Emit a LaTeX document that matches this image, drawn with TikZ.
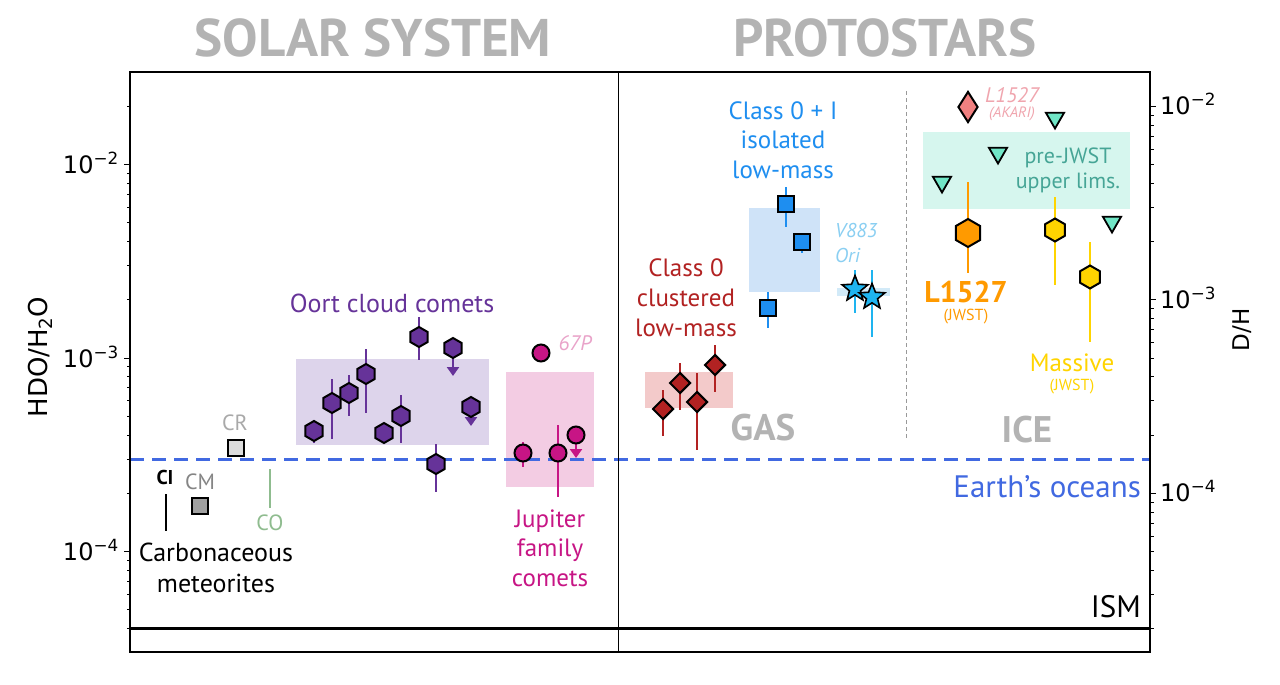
\documentclass[tikz,border=0pt]{standalone}
\usepackage{fontspec}
\setmainfont{PT Sans}
\newfontfamily\dejavu{DejaVu Sans}
\usetikzlibrary{shapes.geometric,arrows.meta}
\definecolor{ttlgray}{HTML}{B3B3B3}
\definecolor{oortc}{HTML}{663399}
\definecolor{oortbox}{HTML}{DDD4EB}
\definecolor{jfc}{HTML}{C71585}
\definecolor{jfcbox}{HTML}{F3CCE3}
\definecolor{pinklt}{HTML}{E9A3C9}
\definecolor{gasred}{HTML}{B22222}
\definecolor{gasbox}{HTML}{F3CACA}
\definecolor{isoblue}{HTML}{1E8EF0}
\definecolor{isobox}{HTML}{CFE3F8}
\definecolor{starblue}{HTML}{1EB4F0}
\definecolor{v883}{HTML}{8ACFF2}
\definecolor{v883box}{HTML}{D2EAF8}
\definecolor{triac}{HTML}{70E6C6}
\definecolor{tribox}{HTML}{D6F6EE}
\definecolor{tealtxt}{HTML}{46A596}
\definecolor{akari}{HTML}{F08080}
\definecolor{akaritxt}{HTML}{F0A5AE}
\definecolor{orng}{HTML}{FF9A00}
\definecolor{gold}{HTML}{FFD400}
\definecolor{oceanblue}{HTML}{4169E1}
\definecolor{cogreen}{HTML}{8FBC8F}
\definecolor{cmgray}{HTML}{A0A0A0}
\definecolor{cmtxt}{HTML}{858585}
\definecolor{crgray}{HTML}{DCDCDC}
\definecolor{crtxt}{HTML}{A9A9A9}
\begin{document}
\begin{tikzpicture}[x=1pt,y=-1pt,
  lbl/.style={inner sep=0pt, align=center, font=\fontsize{23}{29.5}\selectfont},
  ttl/.style={inner sep=0pt, text=ttlgray, font=\fontsize{53}{60}\selectfont\bfseries},
  tick/.style={inner sep=0pt, font=\dejavu\fontsize{24}{28}\selectfont},
  mk/.style={draw=black, line width=2pt, inner sep=0pt},
  hexmk/.style={mk, regular polygon, regular polygon sides=6, shape border rotate=30, minimum size=20pt},
  circmk/.style={mk, circle, minimum size=17pt},
  sqmk/.style={mk, rectangle, minimum size=16pt, line width=2.4pt},
  dmk/.style={mk, diamond, minimum width=21pt, minimum height=21pt},
  starmk/.style={mk, star, star points=5, star point ratio=2.3, minimum size=27pt, line width=1.6pt},
  trimk/.style={mk, regular polygon, regular polygon sides=3, shape border rotate=180, minimum size=21pt, line width=1.8pt},
  ebar/.style={line width=2.6pt},
  ulim/.style={line width=2.6pt, -{Triangle[width=12pt,length=9pt]}}
]
\useasboundingbox (0,0) rectangle (1280,685);
\fill[white] (0,0) rectangle (1280,685);

% titles
\node[ttl] (tsolar) at (373,38) {SOLAR SYSTEM};
\node[ttl] (tproto) at (885,38) {PROTOSTARS};

% shaded boxes
\fill[oortbox] (296,359) rectangle (489,445);
\fill[jfcbox] (506,372) rectangle (594,487);
\fill[gasbox] (645,372) rectangle (733,408);
\fill[isobox] (749,208) rectangle (820,292);
\fill[v883box] (837,288) rectangle (890,296);
\fill[tribox] (923,132) rectangle (1130,209);

% reference lines
\draw[oceanblue, line width=3pt, dash pattern=on 14pt off 8pt] (130,459) -- (1150,459);
\draw[black, line width=3pt] (130,628) -- (1150,628);
\draw[gray!80, line width=1pt, dash pattern=on 4pt off 3pt] (906,91) -- (906,438);
\draw[black, line width=1pt] (618,72) -- (618,652);

% axes frame
\draw[black, line width=1.5pt] (130,72) rectangle (1150,652);

% ticks
\foreach \d in {-5,-4,-3,-2} {
  \foreach \m in {1,...,9} {
    \pgfmathsetmacro\yy{358-193.5*(log10(\m)+\d+3)}
    \pgfmathsetmacro\tl{\m==1 ? 6 : 3.5}
    \ifdim\yy pt>73pt \ifdim\yy pt<651pt
      \draw[line width=1pt] (130,\yy) -- ++(-\tl,0);
    \fi\fi
    \pgfmathsetmacro\yr{358-193.5*(log10(\m)+\d+3+0.30103)}
    \ifdim\yr pt>73pt \ifdim\yr pt<651pt
      \draw[line width=1pt] (1150,\yr) -- ++(\tl,0);
    \fi\fi
  }
}
\node[tick, anchor=east] (yl2) at (119,163) {10\textsuperscript{−2}};
\node[tick, anchor=east] (yl3) at (119,357) {10\textsuperscript{−3}};
\node[tick, anchor=east] (yl4) at (119,550) {10\textsuperscript{−4}};
\node[tick, anchor=west] (yr2) at (1160,104) {10\textsuperscript{−2}};
\node[tick, anchor=west] (yr3) at (1160,298) {10\textsuperscript{−3}};
\node[tick, anchor=west] (yr4) at (1160,491) {10\textsuperscript{−4}};
\node[tick, rotate=90, font=\dejavu\fontsize{26}{30}\selectfont] (ylab) at (40,357) {HDO/H\textsubscript{2}O};
\node[tick, rotate=90, font=\dejavu\fontsize{23}{26}\selectfont] (ylabr) at (1242,330) {D/H};

% meteorites
\node[lbl, font=\fontsize{20}{24}\selectfont\bfseries] (tci) at (165,477) {CI};
\draw[line width=2.2pt] (166,494) -- (166,531);
\node[lbl, text=cmtxt, font=\fontsize{22}{24}\selectfont] (tcm) at (200,482) {CM};
\node[sqmk, fill=cmgray] (cm) at (200,506) {};
\node[lbl, text=crtxt, font=\fontsize{22}{24}\selectfont] (tcr) at (235,423) {CR};
\node[sqmk, fill=crgray] (cr) at (236,448) {};
\draw[cogreen, line width=2pt] (270,469) -- (270,508);
\node[lbl, text=cogreen, font=\fontsize{22}{24}\selectfont] (tco) at (270,523) {CO};
\node[lbl, font=\fontsize{26}{31}\selectfont] (tcarb) at (216,568) {Carbonaceous\\meteorites};

% Oort cloud comets
\node[lbl, text=oortc, font=\fontsize{26}{28}\selectfont] (toort) at (392,303) {Oort cloud comets};
\draw[ebar, oortc] (314,420) -- (314,443);
\draw[ebar, oortc] (332,379) -- (332,439);
\draw[ebar, oortc] (349,375) -- (349,416);
\draw[ebar, oortc] (366,349) -- (366,413);
\draw[ebar, oortc] (401,395) -- (401,443);
\draw[ebar, oortc] (419,317) -- (419,360);
\draw[ebar, oortc] (436,444) -- (436,492);
\draw[ulim, oortc] (453,348) -- (453,376);
\draw[ulim, oortc] (471,407) -- (471,426);
\foreach \n/\px/\py in {1/314/431, 2/332/403, 3/349/393, 4/366/374, 5/384/433, 6/401/416, 7/419/337, 8/436/464, 9/453/348, 10/471/407}
  \node[hexmk, fill=oortc] (oc\n) at (\px,\py) {};

% Jupiter family comets
\draw[ebar, jfc] (523,442) -- (523,467);
\draw[ebar, jfc] (558,425) -- (558,497);
\draw[ulim, jfc] (576,435) -- (576,458);
\node[circmk, fill=jfc] (jf1) at (523,453) {};
\node[circmk, fill=jfc] (jf2) at (558,453) {};
\node[circmk, fill=jfc] (jf3) at (576,435) {};
\node[circmk, fill=jfc] (p67) at (541,353) {};
\node[lbl, text=pinklt, font=\fontsize{21}{24}\selectfont\itshape] (t67p) at (575,343) {67P};
\node[lbl, text=jfc, font=\fontsize{25}{29.5}\selectfont] (tjfc) at (550,548) {Jupiter\\family\\comets};

% Class 0 clustered
\draw[ebar, gasred] (663,390) -- (663,436);
\draw[ebar, gasred] (680,363) -- (680,410);
\draw[ebar, gasred] (697,373) -- (697,450);
\draw[ebar, gasred] (715,345) -- (715,392);
\node[dmk, fill=gasred] (cl1) at (663,409) {};
\node[dmk, fill=gasred] (cl2) at (680,383) {};
\node[dmk, fill=gasred] (cl3) at (697,402) {};
\node[dmk, fill=gasred] (cl4) at (715,365) {};
\node[lbl, text=gasred, font=\fontsize{25}{30}\selectfont] (tcl) at (686,298) {Class 0\\clustered\\low-mass};
\node[lbl, text=ttlgray, font=\fontsize{37}{40}\selectfont\bfseries] (tgas) at (763,428) {GAS};

% Class 0+I isolated
\draw[ebar, isoblue] (786,187) -- (786,227);
\draw[ebar, isoblue] (802,233) -- (802,253);
\draw[ebar, isoblue] (768,292) -- (768,328);
\node[sqmk, fill=isoblue] (is1) at (786,204) {};
\node[sqmk, fill=isoblue] (is2) at (802,242) {};
\node[sqmk, fill=isoblue] (is3) at (768,308) {};
\node[lbl, text=isoblue, font=\fontsize{25}{29.5}\selectfont] (tiso) at (783,140) {Class 0 + I\\isolated\\low-mass};

% V883 Ori
\draw[ebar, starblue] (855,270) -- (855,313);
\draw[ebar, starblue] (872,270) -- (872,337);
\node[starmk, fill=starblue] (st1) at (855,289) {};
\node[starmk, fill=starblue] (st2) at (872,297) {};
\node[lbl, text=v883, font=\fontsize{20}{25}\selectfont\itshape, align=left, anchor=west] (tv883) at (835,243) {V883\\Ori};

% ICE
\node[trimk, fill=triac] (tr1) at (942,182) {};
\node[trimk, fill=triac] (tr2) at (998,153) {};
\node[trimk, fill=triac] (tr3) at (1055,118) {};
\node[trimk, fill=triac] (tr4) at (1112,222) {};
\node[lbl, text=tealtxt, font=\fontsize{22}{25}\selectfont] (tpre) at (1068,170) {pre-JWST\\upper lims.};
\node[mk, diamond, fill=akari, minimum width=20pt, minimum height=31pt, aspect=0.65] (ak) at (968,107) {};
\node[lbl, text=akaritxt, font=\fontsize{21}{22}\selectfont\itshape] (tak1) at (1012,95) {L1527};
\node[lbl, text=akaritxt, font=\fontsize{15}{16}\selectfont\itshape] (tak2) at (1012,114) {(AKARI)};
\draw[ebar, orng] (968,182) -- (968,273);
\node[hexmk, fill=orng, minimum size=28pt] (l1527) at (968,233) {};
\node[lbl, text=orng, font=\fontsize{30}{32}\selectfont\bfseries] (tl1527) at (966,292) {L1527};
\node[lbl, text=orng, font=\fontsize{16}{18}\selectfont] (tljw) at (966,317) {(JWST)};
\draw[ebar, gold] (1055,197) -- (1055,285);
\draw[ebar, gold] (1090,242) -- (1090,342);
\node[hexmk, fill=gold, minimum size=23pt] (ms1) at (1055,230) {};
\node[hexmk, fill=gold, minimum size=23pt] (ms2) at (1090,277) {};
\node[lbl, text=gold, font=\fontsize{25}{28}\selectfont] (tmas) at (1072,363) {Massive};
\node[lbl, text=gold, font=\fontsize{16}{18}\selectfont] (tmjw) at (1072,387) {(JWST)};
\node[lbl, text=ttlgray, font=\fontsize{37}{40}\selectfont\bfseries] (tice) at (1027,430) {ICE};

% line labels
\node[lbl, text=oceanblue, font=\fontsize{31}{33}\selectfont, anchor=east] (tocean) at (1141,487) {Earth's oceans};
\node[lbl, font=\fontsize{31}{33}\selectfont, anchor=east] (tism) at (1141,607) {ISM};
\end{tikzpicture}
\end{document}
